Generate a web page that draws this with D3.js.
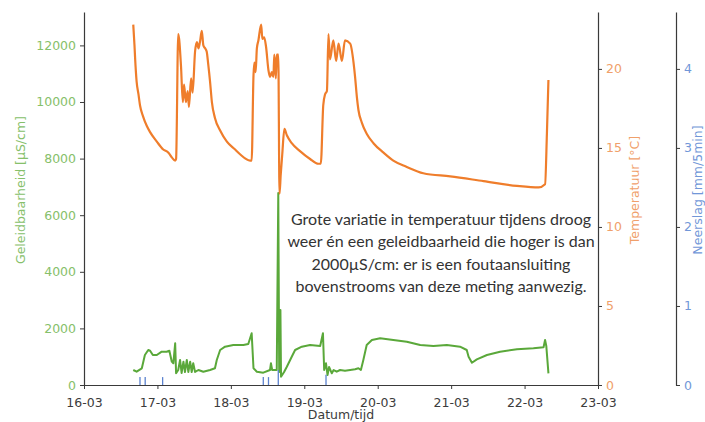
<!DOCTYPE html>
<html>
<head>
<meta charset="utf-8">
<script src="https://cdn.jsdelivr.net/npm/d3@7"></script>
<style>
  html, body { margin: 0; padding: 0; background: #fff; }
  svg { display: block; }
</style>
</head>
<body>
<div id="chart"></div>
<script>
// Geleidbaarheid, temperatuur en neerslag, 16-03 t/m 23-03
// tijd = uren sinds 16-03 00:00

const dayTicks = [0, 24, 48, 72, 96, 120, 144, 168];
const dayLabels = ['16-03', '17-03', '18-03', '19-03', '20-03', '21-03', '22-03', '23-03'];
const condTicks = [0, 2000, 4000, 6000, 8000, 10000, 12000];
const tempTicks = [0, 5, 10, 15, 20];
const rainTicks = [0, 1, 2, 3, 4];

// [uur, °C]
const temperature = [
  [16.1, 22.8], [16.5, 21.5], [16.7, 20.7], [17.2, 19.2], [17.8, 18.4], [18.3, 17.7], [19.3, 17.0],
  [20.5, 16.4], [21.6, 16.0], [23.8, 15.4], [25.9, 14.9], [27.6, 14.7], [28.7, 14.4], [29.8, 14.2],
  [30.1, 14.3], [30.8, 22.2], [31.7, 20.2], [32.3, 17.9], [32.7, 19.0], [33.3, 17.9],
  [33.9, 18.6], [34.3, 17.6], [35.0, 19.4], [35.5, 18.5], [36.3, 21.1], [36.9, 21.7], [37.4, 21.3],
  [37.9, 21.7], [38.5, 22.4], [39.0, 21.5], [39.6, 21.3], [40.1, 21.1], [40.6, 20.3], [41.2, 19.2],
  [41.8, 17.9], [42.8, 16.9], [44.5, 16.1], [46.7, 15.4], [49.4, 14.9], [51.0, 14.6], [54.3, 14.2],
  [54.8, 14.2], [55.4, 19.6],
  [55.7, 20.4], [56.1, 19.8], [56.5, 21.3], [57.0, 21.8], [57.9, 22.8], [58.3, 21.9], [58.9, 22.0],
  [59.5, 21.4], [60.3, 19.9], [60.8, 19.5], [61.4, 19.8], [61.9, 19.5], [62.2, 20.9], [62.7, 19.4],
  [63.0, 20.9], [63.5, 20.9], [63.9, 12.1], [64.3, 13.3], [64.8, 14.6], [65.5, 16.2], [66.3, 15.8],
  [67.9, 15.3], [70.6, 14.8], [73.9, 14.3], [76.6, 14.0], [77.4, 14.0], [78.2, 17.7], [78.8, 18.4],
  [79.4, 18.6], [79.9, 22.2], [80.4, 20.6], [81.5, 21.8], [82.4, 20.5], [83.2, 21.6], [84.3, 20.5],
  [85.3, 21.8], [87.0, 21.6], [88.1, 20.4], [88.6, 19.5], [89.2, 18.2], [89.7, 17.4], [90.8, 16.6],
  [92.4, 15.9], [94.6, 15.3], [97.9, 14.7], [101.1, 14.2], [105.5, 13.8], [110.9, 13.4],
  [119.7, 13.2], [130.6, 12.9], [141.5, 12.6], [148.6, 12.5], [150.7, 12.7], [151.3, 15.9],
  [151.8, 19.3]
];

// [uur, µS/cm]
const conductivity = [
  [16.1, 530], [17.2, 470], [18.9, 590], [19.9, 1060], [21.0, 1237], [21.6, 1212], [22.5, 1060],
  [23.8, 1060], [25.4, 1177], [27.0, 1177], [27.9, 1212], [28.7, 824], [29.2, 767], [29.8, 1473],
  [30.1, 413], [30.8, 530], [31.4, 884], [31.9, 424], [32.5, 824], [33.0, 460], [33.6, 884],
  [34.1, 460], [34.7, 824], [35.2, 460], [35.7, 767], [36.3, 460], [37.4, 530], [39.0, 470],
  [41.2, 530], [42.8, 590], [43.4, 884], [44.5, 1237], [46.1, 1354], [48.8, 1414], [52.1, 1414],
  [53.7, 1450], [54.8, 1827], [55.4, 590], [56.5, 470], [58.6, 435], [60.8, 530], [61.1, 767],
  [61.5, 530], [63.0, 530], [63.5, 6785], [63.8, 460], [64.2, 2650], [64.4, 293], [65.4, 460],
  [66.3, 647], [67.9, 1000], [69.0, 1237], [71.2, 1354], [73.9, 1414], [77.2, 1378], [78.1, 1827],
  [78.5, 530], [79.1, 767], [79.6, 353], [80.1, 636], [81.0, 413], [81.6, 530], [82.6, 470],
  [83.7, 530], [85.3, 505], [87.0, 530], [88.6, 555], [89.7, 590], [90.5, 530], [91.3, 884],
  [92.4, 1414], [94.1, 1590], [96.8, 1650], [101.1, 1590], [105.5, 1530], [109.9, 1414],
  [114.2, 1378], [118.6, 1414], [122.9, 1354], [125.1, 1237], [125.7, 1000], [126.8, 788],
  [128.4, 907], [131.7, 1060], [136.0, 1177], [141.5, 1260], [146.9, 1297], [150.2, 1332],
  [150.7, 1590], [151.1, 1380], [151.8, 413]
];

// [uur, mm/5min]
const rain = [
  [18.3, 0.1], [20.0, 0.1], [25.7, 0.1], [58.6, 0.1], [60.3, 0.1], [63.5, 0.19], [79.1, 0.13]
];

const annotation = [
  'Grote variatie in temperatuur tijdens droog',
  'weer én een geleidbaarheid die hoger is dan',
  '2000µS/cm: er is een foutaansluiting',
  'bovenstrooms van deze meting aanwezig.'
];

(function () {
  const W = 705, H = 422;
  const plot = { left: 84, right: 598, top: 12, bottom: 385 };
  const rainAxisX = 676;

  const COLORS = {
    green: '#5aa83a',
    greenText: '#86c06a',
    orange: '#ef7d2b',
    orangeText: '#f0a06a',
    blue: '#5b82cf',
    blueText: '#7197d8',
    spine: '#3a3a3a',
    text: '#3c3c3c'
  };
  const FONT = 'DejaVu Sans, sans-serif';

  const svg = d3.select('#chart').append('svg')
    .attr('width', W).attr('height', H)
    .attr('viewBox', `0 0 ${W} ${H}`);
  svg.append('rect').attr('width', W).attr('height', H).attr('fill', '#fff');

  const x = d3.scaleLinear().domain([0, 168]).range([plot.left, plot.right]);
  const yCond = d3.scaleLinear().domain([0, 13180]).range([plot.bottom, plot.top]);
  const yTemp = d3.scaleLinear().domain([0, 23.6]).range([plot.bottom, plot.top]);
  const yRain = d3.scaleLinear().domain([0, 4.72]).range([plot.bottom, plot.top]);

  // ---- lijnen ----
  svg.append('path').datum(conductivity)
    .attr('fill', 'none').attr('stroke', COLORS.green).attr('stroke-width', 2)
    .attr('stroke-linejoin', 'round')
    .attr('d', d3.line().x(d => x(d[0])).y(d => yCond(d[1])));

  svg.append('path').datum(temperature)
    .attr('fill', 'none').attr('stroke', COLORS.orange).attr('stroke-width', 2.2)
    .attr('stroke-linejoin', 'round')
    .attr('d', d3.line().curve(d3.curveMonotoneX).x(d => x(d[0])).y(d => yTemp(d[1])));

  svg.append('g').selectAll('line').data(rain).join('line')
    .attr('x1', d => x(d[0])).attr('x2', d => x(d[0]))
    .attr('y1', yRain(0)).attr('y2', d => yRain(d[1]))
    .attr('stroke', COLORS.blue).attr('stroke-width', 1.3);

  // ---- assen ----
  function styleAxis(g, color) {
    g.selectAll('.domain').attr('stroke', COLORS.spine).attr('stroke-width', 1.2);
    g.selectAll('.tick line').attr('stroke', COLORS.spine).attr('stroke-width', 1);
    g.selectAll('text').attr('fill', color).attr('font-size', '12.5px').attr('font-family', FONT);
  }

  const xAxis = svg.append('g').attr('transform', `translate(0,${plot.bottom})`)
    .call(d3.axisBottom(x).tickValues(dayTicks).tickFormat((d, i) => dayLabels[i])
      .tickSize(4).tickSizeOuter(0).tickPadding(9));
  styleAxis(xAxis, COLORS.text);

  const yLeft = svg.append('g').attr('transform', `translate(${plot.left},0)`)
    .call(d3.axisLeft(yCond).tickValues(condTicks).tickFormat(d3.format('d'))
      .tickSize(4).tickSizeOuter(0).tickPadding(4));
  styleAxis(yLeft, COLORS.greenText);

  const yRight = svg.append('g').attr('transform', `translate(${plot.right},0)`)
    .call(d3.axisRight(yTemp).tickValues(tempTicks).tickFormat(d3.format('d'))
      .tickSize(4).tickSizeOuter(0).tickPadding(4));
  styleAxis(yRight, COLORS.orangeText);

  const yRainAxis = svg.append('g').attr('transform', `translate(${rainAxisX},0)`)
    .call(d3.axisRight(yRain).tickValues(rainTicks).tickFormat(d3.format('d'))
      .tickSize(4).tickSizeOuter(0).tickPadding(4));
  styleAxis(yRainAxis, COLORS.blueText);

  // ---- aslabels ----
  svg.append('text')
    .attr('x', (plot.left + plot.right) / 2).attr('y', 419)
    .attr('text-anchor', 'middle').attr('font-family', FONT).attr('font-size', '12.5px')
    .attr('fill', COLORS.text).text('Datum/tijd');

  const ylab = (xp, txt, color) => svg.append('text')
    .attr('transform', `translate(${xp},190) rotate(-90)`)
    .attr('text-anchor', 'middle').attr('dominant-baseline', 'central')
    .attr('font-family', FONT).attr('font-size', '12.5px')
    .attr('fill', color).text(txt);
  ylab(20, 'Geleidbaarheid [µS/cm]', COLORS.greenText);
  ylab(634, 'Temperatuur [°C]', COLORS.orangeText);
  ylab(697, 'Neerslag [mm/5min]', COLORS.blueText);

  // ---- toelichting ----
  const note = svg.append('text')
    .attr('text-anchor', 'middle')
    .attr('font-family', 'Lato, sans-serif').attr('font-size', '16px')
    .attr('fill', '#333');
  annotation.forEach((line, i) => {
    note.append('tspan').attr('x', 441).attr('y', 225 + i * 22.3).text(line);
  });
})();
</script>
</body>
</html>
